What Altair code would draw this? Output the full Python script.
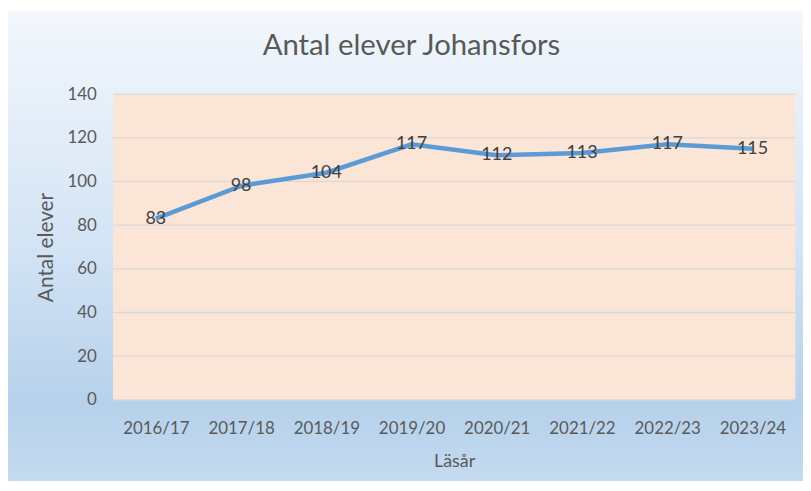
import altair as alt
import pandas as pd

years = ["2016/17", "2017/18", "2018/19", "2019/20", "2020/21", "2021/22", "2022/23", "2023/24"]
students = [83, 98, 104, 117, 112, 113, 117, 115]
y_ticks = [0, 20, 40, 60, 80, 100, 120, 140]

df = pd.DataFrame({"Läsår": years, "Antal elever": students})
grid_df = pd.DataFrame({"v": y_ticks})

W, H = 687, 308
FONT = "Lato"

x_axis = alt.Axis(title="Läsår", labelAngle=0, domain=False, ticks=False,
                  labelPadding=21, titlePadding=16, labelFontSize=17,
                  titleFontSize=18, labelColor="#595959", titleColor="#595959",
                  labelFont=FONT, titleFont=FONT, titleFontWeight="normal",
                  grid=False, zindex=2)
y_axis = alt.Axis(title="Antal elever", values=y_ticks, domain=False, ticks=False,
                  grid=False, labelPadding=17, titlePadding=11, labelFontSize=17,
                  titleFontSize=21, labelColor="#595959", titleColor="#595959",
                  labelFont=FONT, titleFont=FONT, titleFontWeight="normal",
                  zindex=2)
x_scale = alt.Scale(type="point", padding=0.5)
y_scale = alt.Scale(domain=[0, 140], nice=False)

bg = alt.Chart(df).mark_rect(
    fill=alt.Gradient(gradient="linear", x1=0, y1=0, x2=0, y2=1,
                      stops=[alt.GradientStop(offset=0, color="#F3F7FC"),
                             alt.GradientStop(offset=0.5, color="#D2E3F4"),
                             alt.GradientStop(offset=0.82, color="#B6D1EB"),
                             alt.GradientStop(offset=1, color="#C6DCF1")])
).encode(x=alt.value(-108), x2=alt.value(700), y=alt.value(-83), y2=alt.value(400))

plot_bg = alt.Chart(df).mark_rect(fill="#FBE5D6").encode(
    x=alt.value(0), x2=alt.value(W), y=alt.value(0), y2=alt.value(H))

grid = alt.Chart(grid_df).mark_rule(color="#D9D9D9", strokeWidth=1.3).encode(
    y=alt.Y("v:Q", scale=y_scale, axis=y_axis), x=alt.value(0), x2=alt.value(W))

line = alt.Chart(df).mark_line(color="#5B9BD5", strokeWidth=4.5).encode(
    x=alt.X("Läsår:N", sort=years, scale=x_scale, axis=x_axis),
    y=alt.Y("Antal elever:Q", scale=y_scale, axis=y_axis))

labels = alt.Chart(df).mark_text(fontSize=18, color="#404040", font=FONT,
                                 align="center", baseline="middle").encode(
    x=alt.X("Läsår:N", sort=years, scale=x_scale, axis=x_axis),
    y=alt.Y("Antal elever:Q", scale=y_scale, axis=y_axis),
    text="Antal elever:Q")

chart = alt.layer(bg, plot_bg, grid, line, labels).properties(
    width=W, height=H,
    title=alt.TitleParams("Antal elever Johansfors", fontSize=29.5, font=FONT,
                          fontWeight="normal", color="#595959", offset=-50, dx=-43,
                          frame="group", zindex=2),
    autosize=alt.AutoSizeParams(type="none"),
    padding={"left": 106, "top": 85, "right": 8, "bottom": 80},
).configure_view(stroke=None)

chart.save("out.html", embed_options={"renderer": "svg", "actions": False})
